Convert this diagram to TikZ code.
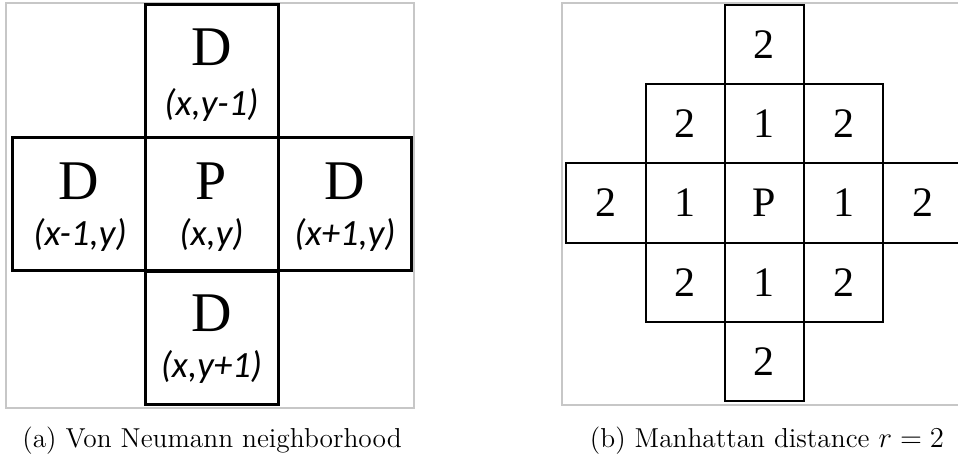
\documentclass[tikz,border=0pt]{standalone}
\usepackage{fontspec}
\newfontfamily\cellfont{Liberation Serif}
\newfontfamily\coordfont{Carlito}

\begin{document}
\begin{tikzpicture}[
    x=0.5pt, y=-0.5pt,
    line cap=rect,
    frame/.style={draw=black!22, line width=1pt},
    nbcell/.style={draw, line width=1.5pt, minimum size=66.5pt, inner sep=0pt},
    mhcell/.style={draw, line width=1pt, minimum size=39.6pt, inner sep=0pt,
        font=\cellfont\fontsize{21}{21}\selectfont},
    bigletter/.style={font=\cellfont\fontsize{28}{28}\selectfont, inner sep=0pt},
    coordlabel/.style={font=\coordfont\itshape\fontsize{18.5}{18.5}\selectfont, inner sep=0pt},
    caption/.style={font=\fontsize{13.7}{15}\selectfont, inner sep=0pt}
]
\path[use as bounding box, clip] (0,0) rectangle (958,462);

% Frames of the two panels
\draw[frame] (6,3) rectangle (414,408);
\draw[frame] (562,3) rectangle (972,405);

% Von Neumann neighborhood
\node[nbcell] (vnTop) at (211.5,71) {};
\node[nbcell] (vnLeft) at (79,204) {};
\node[nbcell] (vnCentre) at (211.5,204) {};
\node[nbcell] (vnRight) at (344.5,204) {};
\node[nbcell] (vnBottom) at (211.5,338) {};

\node[bigletter] (dTop) at (211.5,47) {D};
\node[coordlabel] (cTop) at (211.5,105) {(x,y-1)};
\node[bigletter] (dLeft) at (79,181) {D};
\node[coordlabel] (cLeft) at (80,235) {(x-1,y)};
\node[bigletter] (pCentre) at (211.5,181) {P};
\node[coordlabel] (cCentre) at (211.5,235) {(x,y)};
\node[bigletter] (dRight) at (344.5,181) {D};
\node[coordlabel] (cRight) at (345,235) {(x+1,y)};
\node[bigletter] (dBottom) at (211.5,313) {D};
\node[coordlabel] (cBottom) at (211.5,367) {(x,y+1)};

% Manhattan distance r = 2
\node[mhcell] (mhTop) at (764.4,44.6) {2};
\node[mhcell] (mhUpLeft) at (685.2,123.8) {2};
\node[mhcell] (mhUp) at (764.4,123.8) {1};
\node[mhcell] (mhUpRight) at (843.6,123.8) {2};
\node[mhcell] (mhFarLeft) at (606,203) {2};
\node[mhcell] (mhLeft) at (685.2,203) {1};
\node[mhcell] (mhCentre) at (764.4,203) {P};
\node[mhcell] (mhRight) at (843.6,203) {1};
\node[mhcell] (mhFarRight) at (922.8,203) {2};
\node[mhcell] (mhDownLeft) at (685.2,282.2) {2};
\node[mhcell] (mhDown) at (764.4,282.2) {1};
\node[mhcell] (mhDownRight) at (843.6,282.2) {2};
\node[mhcell] (mhBottom) at (764.4,361.4) {2};

% Captions
\node[caption] (capA) at (212,441) {(a) Von Neumann neighborhood};
\node[caption] (capB) at (767,441) {(b) Manhattan distance $r=2$};

\end{tikzpicture}
\end{document}
